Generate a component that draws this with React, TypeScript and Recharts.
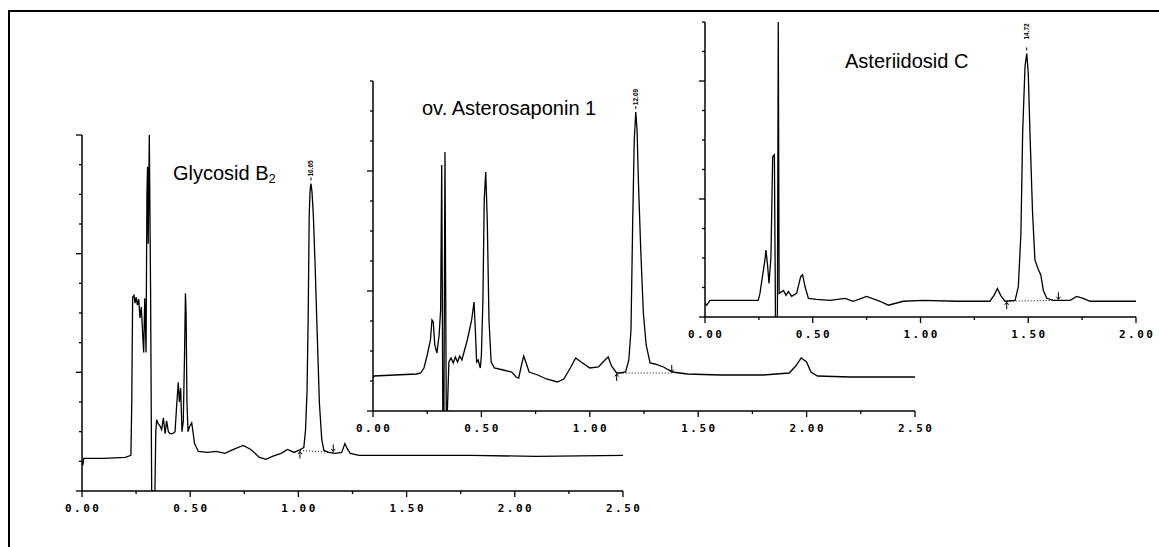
import { LineChart, Line, XAxis, YAxis, ReferenceDot } from "recharts";

// retention time axis (x 10 min), detector response in arbitrary units
const timeTicksLong = [0, 0.25, 0.5, 0.75, 1, 1.25, 1.5, 1.75, 2, 2.25, 2.5];
const timeTicksShort = [0, 0.25, 0.5, 0.75, 1, 1.25, 1.5, 1.75, 2];
const responseTicks1 = [0, 30, 60, 90, 120, 150, 180, 210, 240, 270, 300, 330, 360];
const responseTicks2 = [0, 30, 60, 90, 120, 150, 180, 210, 240, 270, 300, 330];
const responseTicks3 = [0, 30, 60, 90, 120, 150, 180, 210, 240, 270, 300];

const titles = ["Glycosid B", "ov. Asterosaponin 1", "Asteriidosid C"];
const peakLabels = ["10.65", "12.09", "14.72"];

const glycosidTrace: [number, number][] = [
  [0, 30], [0.004, 26], [0.008, 33], [0.1, 33], [0.2, 34], [0.226, 36], [0.23, 90], [0.234, 196],
  [0.24, 198], [0.245, 190], [0.25, 196], [0.256, 188], [0.262, 194], [0.268, 175], [0.274, 186],
  [0.28, 160], [0.285, 140], [0.29, 195], [0.296, 140], [0.3, 300], [0.303, 328], [0.306, 250],
  [0.311, 360], [0.317, 200], [0.322, 0], [0.33, 0], [0.337, 0], [0.341, 60], [0.345, 72],
  [0.352, 68], [0.36, 66], [0.368, 62], [0.376, 74], [0.384, 58], [0.391, 71], [0.399, 60],
  [0.407, 58], [0.418, 58], [0.43, 60], [0.437, 85], [0.445, 110], [0.45, 90], [0.456, 104],
  [0.462, 60], [0.468, 70], [0.474, 140], [0.478, 200], [0.481, 180], [0.485, 90], [0.49, 60],
  [0.497, 65], [0.507, 69], [0.514, 58], [0.52, 48], [0.538, 40], [0.58, 39], [0.62, 40],
  [0.66, 38], [0.7, 42], [0.745, 46], [0.78, 42], [0.82, 34], [0.85, 32], [0.88, 35], [0.92, 38],
  [0.95, 42], [0.98, 39], [1.0, 41], [1.025, 44], [1.033, 62], [1.04, 102], [1.045, 173],
  [1.05, 279], [1.054, 304], [1.058, 311], [1.063, 302], [1.069, 279], [1.077, 230], [1.085, 173],
  [1.097, 89], [1.108, 52], [1.118, 41], [1.14, 39], [1.17, 38], [1.2, 39], [1.215, 48],
  [1.225, 43], [1.24, 38], [1.28, 36], [1.5, 36], [1.8, 36], [2.1, 35], [2.5, 36],
];
const glycosidBaseline: [number, number][] = [[1.007, 41], [1.161, 39]];

const asterosaponinTrace: [number, number][] = [
  [0, 33], [0.005, 35], [0.1, 36], [0.2, 37], [0.22, 38], [0.235, 43], [0.25, 56], [0.265, 71],
  [0.272, 91], [0.278, 89], [0.285, 66], [0.295, 58], [0.305, 76], [0.312, 101], [0.317, 246],
  [0.322, 0], [0.327, 0], [0.332, 259], [0.338, 0], [0.343, 0], [0.35, 49], [0.36, 53],
  [0.37, 48], [0.38, 54], [0.39, 49], [0.4, 55], [0.41, 51], [0.42, 59], [0.435, 71], [0.455, 91],
  [0.466, 109], [0.472, 81], [0.478, 49], [0.485, 51], [0.495, 43], [0.5, 56], [0.507, 111],
  [0.513, 211], [0.52, 239], [0.527, 191], [0.535, 91], [0.545, 49], [0.56, 43], [0.6, 41],
  [0.64, 39], [0.66, 34], [0.672, 33], [0.685, 46], [0.695, 55], [0.705, 49], [0.72, 39],
  [0.76, 36], [0.8, 32], [0.85, 29], [0.88, 32], [0.91, 43], [0.935, 53], [0.96, 49], [1.0, 43],
  [1.04, 44], [1.07, 51], [1.085, 54], [1.1, 45], [1.124, 38], [1.14, 38], [1.165, 39],
  [1.18, 51], [1.19, 81], [1.198, 191], [1.205, 271], [1.212, 299], [1.218, 281], [1.224, 231],
  [1.235, 161], [1.247, 98], [1.26, 66], [1.278, 48], [1.3, 47], [1.34, 44], [1.38, 39],
  [1.45, 37], [1.6, 36], [1.8, 36], [1.92, 38], [1.95, 45], [1.975, 53], [2.0, 49], [2.02, 39],
  [2.05, 35], [2.2, 34], [2.5, 34],
];
const asterosaponinBaseline: [number, number][] = [[1.124, 38], [1.378, 38]];

const asteriidosidTrace: [number, number][] = [
  [0, 14], [0.008, 12], [0.023, 17], [0.247, 17], [0.255, 24], [0.278, 58], [0.283, 68],
  [0.291, 51], [0.297, 34], [0.306, 61], [0.314, 163], [0.322, 165], [0.327, 0], [0.336, 0],
  [0.34, 300], [0.344, 24], [0.364, 27], [0.376, 22], [0.387, 26], [0.402, 21], [0.425, 24],
  [0.444, 41], [0.453, 43], [0.464, 31], [0.48, 19], [0.518, 18], [0.58, 17], [0.65, 19],
  [0.688, 16], [0.75, 21], [0.812, 16], [0.851, 12], [0.92, 16], [1.013, 17], [1.168, 16],
  [1.322, 16], [1.341, 22], [1.357, 29], [1.372, 22], [1.392, 16], [1.439, 17], [1.454, 31],
  [1.466, 85], [1.474, 187], [1.485, 255], [1.493, 268], [1.5, 248], [1.508, 187], [1.52, 106],
  [1.531, 58], [1.547, 48], [1.558, 43], [1.57, 27], [1.586, 19], [1.616, 17], [1.694, 17],
  [1.725, 21], [1.755, 19], [1.787, 16], [2.0, 16],
];
const asteriidosidBaseline: [number, number][] = [[1.4, 16], [1.64, 17]];

const XTick = (props: any) => {
  const { x, y, payload } = props;
  const v = payload.value as number;
  const major = Math.abs(v * 2 - Math.round(v * 2)) < 1e-6;
  return (
    <g>
      <line x1={x} y1={y} x2={x} y2={y + (major ? 6 : 3)} stroke="#000" strokeWidth={1.3} />
      {major && (
        <text
          x={x + 1.2}
          y={y + 21}
          textAnchor="middle"
          fontFamily="DejaVu Sans Mono"
          fontWeight="bold"
          fontSize={11}
          letterSpacing={2.5}
          fill="#000"
        >
          {v.toFixed(2)}
        </text>
      )}
    </g>
  );
};

const YTick = (props: any) => {
  const { x, y, payload } = props;
  const major = payload.value % 120 === 0;
  return <line x1={x} y1={y} x2={x - (major ? 6 : 3)} y2={y} stroke="#000" strokeWidth={1.3} />;
};

const PeakMark = ({ cx, cy, text, gap }: any) => (
  <g>
    <line x1={cx} y1={cy - 3} x2={cx} y2={cy - 6} stroke="#000" strokeWidth={1} />
    <text
      transform={`translate(${cx + 2.5},${cy - gap}) rotate(-90)`}
      textAnchor="middle"
      fontFamily="Liberation Sans"
      fontWeight="bold"
      fontSize={6.5}
      fill="#000"
    >
      {text}
    </text>
  </g>
);

const IntegMark = ({ cx, cy, dir }: any) => {
  if (dir === "up") {
    return (
      <g stroke="#000" strokeWidth={1} fill="none">
        <line x1={cx} y1={cy + 1} x2={cx} y2={cy + 8} />
        <polyline points={`${cx - 2},${cy + 3.5} ${cx},${cy + 1} ${cx + 2},${cy + 3.5}`} />
      </g>
    );
  }
  return (
    <g stroke="#000" strokeWidth={1} fill="none">
      <line x1={cx} y1={cy - 8} x2={cx} y2={cy - 1} />
      <polyline points={`${cx - 2},${cy - 3.5} ${cx},${cy - 1} ${cx + 2},${cy - 3.5}`} />
    </g>
  );
};

function Chromatogram({
  left, top, width, height, trace, baseline, xTicks, yTicks, peak, label, gap, startMark, endMark,
}: any) {
  const data = trace.map(([t, v]: [number, number]) => ({ t, v }));
  const base = baseline.map(([t, v]: [number, number]) => ({ t, b: v }));
  const xMax = xTicks[xTicks.length - 1];
  const yMax = yTicks[yTicks.length - 1];
  return (
    <div style={{ position: "absolute", left, top }}>
      <LineChart width={width} height={height} margin={{ top: 5, right: 30, bottom: 5, left: 5 }}>
        <XAxis
          type="number"
          dataKey="t"
          domain={[0, xMax]}
          ticks={xTicks}
          interval={0}
          height={30}
          tickSize={0}
          tickMargin={0}
          tickLine={false}
          axisLine={{ stroke: "#000", strokeWidth: 1.5 }}
          tick={XTick}
          allowDataOverflow
        />
        <YAxis
          type="number"
          domain={[0, yMax]}
          ticks={yTicks}
          interval={0}
          width={20}
          tickSize={0}
          tickMargin={0}
          tickLine={false}
          axisLine={{ stroke: "#000", strokeWidth: 1.5 }}
          tick={YTick}
          allowDataOverflow
        />
        <Line
          data={data}
          dataKey="v"
          type="linear"
          stroke="#000"
          strokeWidth={1.3}
          dot={false}
          activeDot={false}
          isAnimationActive={false}
        />
        <Line
          data={base}
          dataKey="b"
          type="linear"
          stroke="#000"
          strokeWidth={1}
          strokeDasharray="1 2"
          dot={false}
          activeDot={false}
          isAnimationActive={false}
        />
        <ReferenceDot
          x={peak[0]}
          y={peak[1]}
          r={0}
          ifOverflow="visible"
          shape={(p: any) => <PeakMark cx={p.cx} cy={p.cy} text={label} gap={gap} />}
        />
        <ReferenceDot
          x={startMark[0]}
          y={startMark[1]}
          r={0}
          ifOverflow="visible"
          shape={(p: any) => <IntegMark cx={p.cx} cy={p.cy} dir="up" />}
        />
        <ReferenceDot
          x={endMark[0]}
          y={endMark[1]}
          r={0}
          ifOverflow="visible"
          shape={(p: any) => <IntegMark cx={p.cx} cy={p.cy} dir="down" />}
        />
      </LineChart>
    </div>
  );
}

export default function App() {
  return (
    <div
      style={{
        position: "fixed",
        left: 0,
        top: 0,
        width: 1159,
        height: 547,
        overflow: "hidden",
        background: "#fff",
      }}
    >
      <div
        style={{
          position: "absolute",
          left: 8,
          top: 10,
          width: 1151,
          height: 537,
          borderTop: "2px solid #000",
          borderLeft: "2px solid #000",
          boxSizing: "border-box",
        }}
      />
      <Chromatogram
        left={57}
        top={130}
        width={596}
        height={396}
        trace={glycosidTrace}
        baseline={glycosidBaseline}
        xTicks={timeTicksLong}
        yTicks={responseTicks1}
        peak={[1.058, 311]}
        label={peakLabels[0]}
        gap={15}
        startMark={glycosidBaseline[0]}
        endMark={glycosidBaseline[1]}
      />
      <Chromatogram
        left={348}
        top={76}
        width={597}
        height={370}
        trace={asterosaponinTrace}
        baseline={asterosaponinBaseline}
        xTicks={timeTicksLong}
        yTicks={responseTicks2}
        peak={[1.212, 299]}
        label={peakLabels[1]}
        gap={15}
        startMark={asterosaponinBaseline[0]}
        endMark={asterosaponinBaseline[1]}
      />
      <Chromatogram
        left={680}
        top={17}
        width={486}
        height={335}
        trace={asteriidosidTrace}
        baseline={asteriidosidBaseline}
        xTicks={timeTicksShort}
        yTicks={responseTicks3}
        peak={[1.493, 268]}
        label={peakLabels[2]}
        gap={22}
        startMark={asteriidosidBaseline[0]}
        endMark={asteriidosidBaseline[1]}
      />
      <svg
        width={1159}
        height={547}
        style={{ position: "absolute", left: 0, top: 0, pointerEvents: "none" }}
      >
        <g fontFamily="Liberation Sans, Arial, sans-serif" fontSize={20} fill="#000">
          <text x={173} y={180}>
            {titles[0]}
            <tspan fontSize={13} dy={3}>2</tspan>
          </text>
          <text x={422} y={115}>{titles[1]}</text>
          <text x={845} y={68}>{titles[2]}</text>
        </g>
      </svg>
    </div>
  );
}
